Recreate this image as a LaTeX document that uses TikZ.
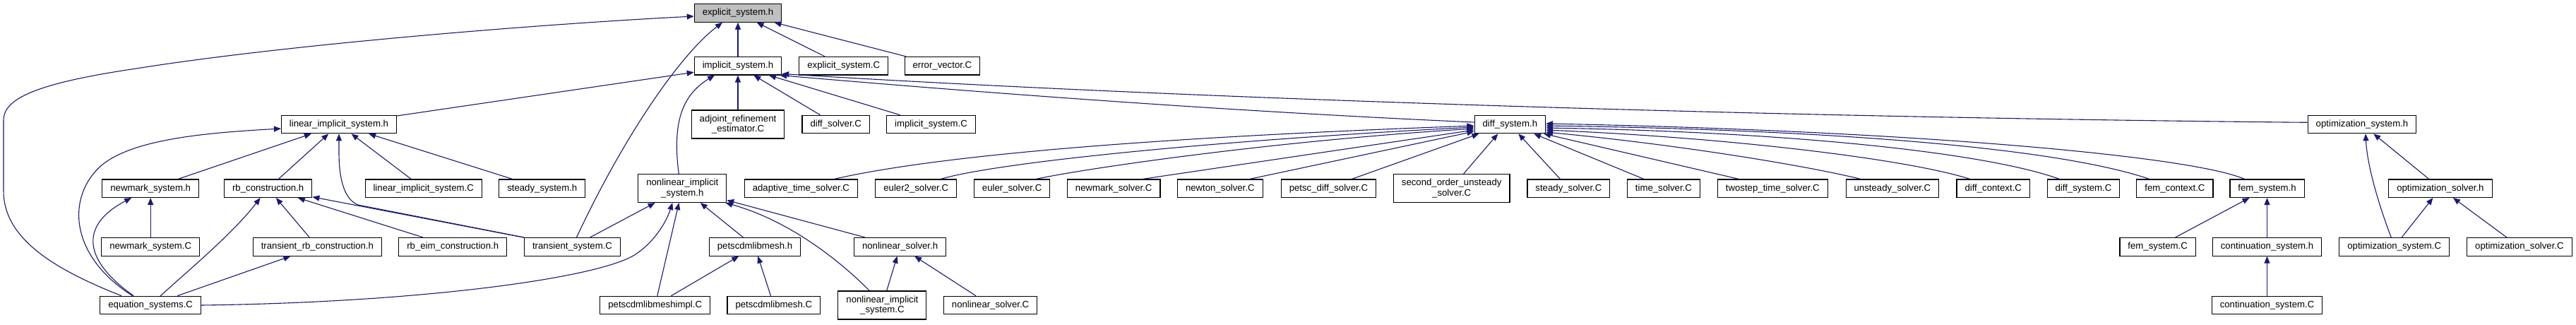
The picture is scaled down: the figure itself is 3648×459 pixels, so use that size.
\documentclass[tikz,border=0pt]{standalone}
\usepackage{fontspec}
\setmainfont{Liberation Sans}
\usetikzlibrary{arrows.meta}
\definecolor{edgeblue}{RGB}{25,25,112}
\definecolor{rootgray}{RGB}{191,191,191}

\begin{document}
\begin{tikzpicture}[x=1pt, y=-1pt, >={Triangle[length=10pt,width=8pt]},
  box/.style={draw=black, line width=1.1pt, fill=white, inner xsep=11.5pt, inner ysep=3pt,
    minimum height=25.5pt, align=center, font=\fontsize{13.2}{14.4}\selectfont},
  twobox/.style={box, minimum height=40pt},
  root/.style={box, fill=rootgray},
  dep/.style={->, draw=edgeblue, line width=1.1pt}]
  \useasboundingbox (0,0) rectangle (3648,459);
  % top: the header itself and its direct users
  \node[root] (EXH) at (1045,18.5) {explicit\_system.h};
  \node[box] (IMH) at (1045,93.2) {implicit\_system.h};
  \node[box] (EXC) at (1194.7,93.2) {explicit\_system.C};
  \node[box] (EVC) at (1334.4,93.2) {error\_vector.C};
  % third row
  \node[box] (LIH) at (480,176) {linear\_implicit\_system.h};
  \node[twobox] (ARE) at (1045,176) {adjoint\_refinement\\\_estimator.C};
  \node[box] (DSC) at (1183.7,176) {diff\_solver.C};
  \node[box] (IMC) at (1318.5,176) {implicit\_system.C};
  \node[box] (DFH) at (2138.3,176) {diff\_system.h};
  \node[box] (OSH) at (3345,176) {optimization\_system.h};
  % fourth row
  \node[box] (NMH) at (213.2,266.7) {newmark\_system.h};
  \node[box] (RBH) at (379.7,266.7) {rb\_construction.h};
  \node[box] (LIC) at (599.7,266.7) {linear\_implicit\_system.C};
  \node[box] (SSH) at (767.8,266.7) {steady\_system.h};
  \node[twobox] (NIH) at (966.3,266.5) {nonlinear\_implicit\\\_system.h};
  \node[box] (ATS) at (1134.4,266.7) {adaptive\_time\_solver.C};
  \node[box] (E2S) at (1297.2,266.7) {euler2\_solver.C};
  \node[box] (EUS) at (1433.1,266.7) {euler\_solver.C};
  \node[box] (NMS) at (1577.2,266.7) {newmark\_solver.C};
  \node[box] (NTS) at (1727.8,266.7) {newton\_solver.C};
  \node[box] (PDS) at (1881.4,266.7) {petsc\_diff\_solver.C};
  \node[twobox] (SOU) at (2055.7,266.5) {second\_order\_unsteady\\\_solver.C};
  \node[box] (STS) at (2221.4,266.7) {steady\_solver.C};
  \node[box] (TMS) at (2355.9,266.7) {time\_solver.C};
  \node[box] (TWS) at (2510.3,266.7) {twostep\_time\_solver.C};
  \node[box] (UNS) at (2679.9,266.7) {unsteady\_solver.C};
  \node[box] (DCC) at (2822.7,266.7) {diff\_context.C};
  \node[box] (DYC) at (2950.4,266.7) {diff\_system.C};
  \node[box] (FCC) at (3079.9,266.7) {fem\_context.C};
  \node[box] (FSH) at (3210.5,266.7) {fem\_system.h};
  \node[box] (OVH) at (3455.9,266.7) {optimization\_solver.h};
  % fifth row
  \node[box] (NMC) at (213.2,349.3) {newmark\_system.C};
  \node[box] (TRB) at (449.4,349.3) {transient\_rb\_construction.h};
  \node[box] (EIM) at (641.2,349.3) {rb\_eim\_construction.h};
  \node[box] (TSC) at (810.5,349.3) {transient\_system.C};
  \node[box] (PDH) at (1069,349.3) {petscdmlibmesh.h};
  \node[box] (NSH) at (1274.6,349.3) {nonlinear\_solver.h};
  \node[box] (FSC) at (3055.6,349.3) {fem\_system.C};
  \node[box] (CSH) at (3210.5,349.3) {continuation\_system.h};
  \node[box] (OSC) at (3390.7,349.3) {optimization\_system.C};
  \node[box] (OVC) at (3567.9,349.3) {optimization\_solver.C};
  % bottom row
  \node[box] (EQC) at (213.2,432) {equation\_systems.C};
  \node[box] (PDI) at (927.7,432) {petscdmlibmeshimpl.C};
  \node[box] (PDC) at (1095.8,432) {petscdmlibmesh.C};
  \node[twobox] (NIC) at (1249.4,432) {nonlinear\_implicit\\\_system.C};
  \node[box] (NSC) at (1402.6,432) {nonlinear\_solver.C};
  \node[box] (CSC) at (3210.5,432) {continuation\_system.C};
  % into explicit_system.h
  \draw[dep] (IMH) -- (EXH);
  \draw[dep] (EXC) -- (EXH);
  \draw[dep] (EVC) -- (EXH);
  \draw[dep] ([xshift=6pt]TSC.north) .. controls (880,200) and (960,80) .. ([xshift=-22pt]EXH.south);
  \draw[dep] ([xshift=-41pt]EQC.north) .. controls (60,375) and (5,330) .. (5,270) -- (5,170)
    .. controls (5,140) and (50,118) .. (193,97) .. controls (400,64) and (750,35) .. ([yshift=-4.5pt]EXH.west);
  % into implicit_system.h
  \draw[dep] (LIH) -- (IMH);
  \draw[dep] (ARE) -- (IMH);
  \draw[dep] (DSC) -- (IMH);
  \draw[dep] (IMC) -- (IMH);
  \draw[dep] ([xshift=-5pt]NIH.north) .. controls (952,175) and (965,135) .. ([xshift=-33pt]IMH.south);
  \draw[dep] ([yshift=3pt]DFH.west) .. controls (1750,158) and (1400,132) .. ([xshift=-3pt]IMH.south east);
  \draw[dep] ([yshift=2.7pt]OSH.west) .. controls (2400,165) and (1600,135) .. ([yshift=2pt]IMH.south east);
  % into linear_implicit_system.h
  \draw[dep] ([xshift=-25.5pt]EQC.north) .. controls (95,360) and (95,275) .. (145,233)
    .. controls (190,197) and (290,188) .. ([yshift=-6pt]LIH.west);
  \draw[dep] (NMH) -- (LIH);
  \draw[dep] (RBH) -- (LIH);
  \draw[dep] (LIC) -- (LIH);
  \draw[dep] (SSH) -- (LIH);
  \draw[dep] (TSC.north west) -- (507,290) .. controls (490,283) and (480,260) .. (480,215) -- (LIH.south);
  % newmark and rb_construction
  \draw[dep] (NMC) -- (NMH);
  \draw[dep] ([xshift=-24pt]EQC.north) .. controls (120,370) and (110,320) .. ([xshift=-27pt]NMH.south);
  \draw[dep] ([xshift=14pt]EQC.north) .. controls (270,380) and (330,330) .. ([xshift=-11pt]RBH.south);
  \draw[dep] (TRB) -- (RBH);
  \draw[dep] (EIM) -- (RBH);
  \draw[dep] (TSC) -- (RBH);
  \draw[dep] (EQC) -- (TRB);
  % into nonlinear_implicit_system.h
  \draw[dep] (EQC.east) .. controls (600,428) and (850,393) .. (900,360)
    .. controls (930,340) and (945,310) .. ([xshift=-14pt]NIH.south);
  \draw[dep] (TSC) -- (NIH);
  \draw[dep] (PDI) -- (NIH);
  \draw[dep] (PDH) -- (NIH);
  \draw[dep] (NSH) -- (NIH);
  \draw[dep] ([xshift=-18pt]NIC.north) .. controls (1180,360) and (1110,310) .. ([xshift=-2pt]NIH.south east);
  % petscdmlibmesh and nonlinear_solver
  \draw[dep] (PDI) -- (PDH);
  \draw[dep] (PDC) -- (PDH);
  \draw[dep] (NIC) -- (NSH);
  \draw[dep] (NSC) -- (NSH);
  % into diff_system.h
  \draw[dep] ([xshift=47pt]ATS.north) .. controls (1350,215) and (1700,192) .. ([yshift=-2pt]DFH.west);
  \draw[dep] ([xshift=35pt]E2S.north) .. controls (1420,228) and (1750,197) .. ([yshift=-4pt]DFH.west);
  \draw[dep] ([xshift=34pt]EUS.north) .. controls (1540,238) and (1800,200) .. ([yshift=-6pt]DFH.west);
  \draw[dep] ([xshift=41pt]NMS.north) -- ([yshift=-8pt]DFH.west);
  \draw[dep] ([xshift=42pt]NTS.north) -- ([yshift=-10pt]DFH.west);
  \draw[dep] ([xshift=33pt]PDS.north) -- ([xshift=7pt]DFH.south west);
  \draw[dep] ([xshift=17pt]SOU.north) -- ([xshift=-17pt]DFH.south);
  \draw[dep] ([xshift=-12pt]STS.north) -- ([xshift=12pt]DFH.south);
  \draw[dep] ([xshift=-28pt]TMS.north) -- ([xshift=-17pt]DFH.south east);
  \draw[dep] ([xshift=-48pt]TWS.north) -- ([xshift=-3pt]DFH.south east);
  \draw[dep] ([xshift=-45pt]UNS.north) .. controls (2560,235) and (2380,205) .. ([yshift=-11pt]DFH.east);
  \draw[dep] ([xshift=-33pt]DCC.north) .. controls (2700,225) and (2450,195) .. ([yshift=-8pt]DFH.east);
  \draw[dep] ([xshift=-34pt]DYC.north) .. controls (2800,212) and (2500,186) .. ([yshift=-5pt]DFH.east);
  \draw[dep] ([xshift=-36pt]FCC.north) .. controls (2900,205) and (2550,183) .. ([yshift=-2pt]DFH.east);
  \draw[dep] ([xshift=-32pt]FSH.north) .. controls (3100,220) and (2700,185) .. ([yshift=1pt]DFH.east);
  % fem and continuation
  \draw[dep] (FSC) -- (FSH);
  \draw[dep] (CSH) -- (FSH);
  \draw[dep] (CSC) -- (CSH);
  % optimization
  \draw[dep] ([xshift=-4.5pt]OSC.north) .. controls (3365,280) and (3352,230) .. ([xshift=5pt]OSH.south);
  \draw[dep] (OVH) -- (OSH);
  \draw[dep] (OSC) -- (OVH);
  \draw[dep] (OVC) -- (OVH);
\end{tikzpicture}
\end{document}
